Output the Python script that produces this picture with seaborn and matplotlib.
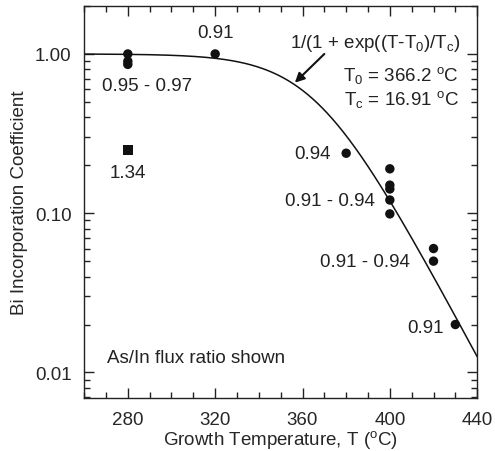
import numpy as np
import matplotlib
matplotlib.use('Agg')
import matplotlib.pyplot as plt
import matplotlib.ticker as mticker
import seaborn as sns

# Measured Bi incorporation coefficients (circles)
temp_c = [280, 280, 280, 320, 380, 400, 400, 400, 400, 400, 420, 420, 430]
coeff_c = [1.00, 0.90, 0.86, 1.00, 0.238, 0.19, 0.15, 0.142, 0.121, 0.099, 0.060, 0.050, 0.020]

# Outlier with high As/In flux (square)
temp_s = [280]
coeff_s = [0.25]

# Fermi-like fit parameters shown on the chart
T0 = 366.2
Tc = 16.91

# Flux ratio annotations: (text, x, y, ha)
flux_labels = [
    ('0.91', 320, 1.37, 'center'),
    ('0.95 - 0.97', 289, 0.63, 'center'),
    ('1.34', 280, 0.18, 'center'),
    ('0.94', 373, 0.238, 'right'),
    ('0.91 - 0.94', 393, 0.121, 'right'),
    ('0.91 - 0.94', 409, 0.050, 'right'),
    ('0.91', 424.5, 0.0192, 'right'),
]

sns.set_theme(style='ticks')
plt.rcParams['font.family'] = ['Liberation Sans', 'DejaVu Sans']
plt.rcParams.update({
    'mathtext.fontset': 'custom',
    'mathtext.rm': 'Liberation Sans',
    'mathtext.it': 'Liberation Sans',
    'font.size': 13.5,
    'axes.labelsize': 13.5,
    'xtick.labelsize': 13.5,
    'ytick.labelsize': 13.5,
    'axes.edgecolor': '#222222',
    'axes.linewidth': 1.0,
})

fig = plt.figure(figsize=(4.95, 4.52), dpi=100)
ax = fig.add_axes([0.170, 0.117, 0.794, 0.8675])

T_fit = np.linspace(260, 440, 400)
fit = 1.0 / (1.0 + np.exp((T_fit - T0) / Tc))
sns.lineplot(x=T_fit, y=fit, ax=ax, color='#111111', linewidth=1.1)

sns.scatterplot(x=temp_c, y=coeff_c, ax=ax, color='#111111', marker='o',
                s=46, edgecolor='none', zorder=3)
sns.scatterplot(x=temp_s, y=coeff_s, ax=ax, color='#111111', marker='s',
                s=55, edgecolor='none', zorder=3)

ax.set_yscale('log')
ax.set_xlim(260, 440)
ax.set_ylim(0.0069, 2.0)
ax.xaxis.set_major_locator(mticker.FixedLocator([280, 320, 360, 400, 440]))
ax.xaxis.set_minor_locator(mticker.MultipleLocator(10))
ax.yaxis.set_major_locator(mticker.FixedLocator([0.01, 0.1, 1.0]))
ax.yaxis.set_major_formatter(mticker.FixedFormatter(['0.01', '0.10', '1.00']))
ax.yaxis.set_minor_locator(mticker.LogLocator(base=10, subs=np.arange(2, 10)))
ax.yaxis.set_minor_formatter(mticker.NullFormatter())

ax.tick_params(which='both', direction='in', top=True, right=True, color='#222222')
ax.tick_params(which='major', length=7, width=1.0, pad=9)
ax.tick_params(which='minor', length=4, width=1.0)

ax.set_xlabel(r'Growth Temperature, T ($^{\mathrm{o}}$C)', labelpad=0)
ax.set_ylabel('Bi Incorporation Coefficient', labelpad=5)

for txt, x, y, ha in flux_labels:
    ax.text(x, y, txt, ha=ha, va='center', fontsize=13.5, color='#222222')

ax.text(270.5, 0.0124, 'As/In flux ratio shown', ha='left', va='center',
        fontsize=13.5, color='#222222')

ax.text(432.5, 1.18, r'1/(1 + exp((T-T$_0$)/T$_\mathrm{c}$)', ha='right', va='center',
        fontsize=13.5, color='#222222')
ax.text(431.5, 0.738, r'T$_0$ = %.1f $^{\mathrm{o}}$C' % T0, ha='right', va='center',
        fontsize=13.5, color='#222222')
ax.text(431.5, 0.526, r'T$_\mathrm{c}$ = %.2f $^{\mathrm{o}}$C' % Tc, ha='right', va='center',
        fontsize=13.5, color='#222222')

ax.annotate('', xy=(356.5, 0.66), xytext=(370, 1.0),
            arrowprops=dict(arrowstyle='-|>', color='#111111', lw=1.5,
                            mutation_scale=14, shrinkA=0, shrinkB=0))

fig.savefig('out.png', dpi=100)
